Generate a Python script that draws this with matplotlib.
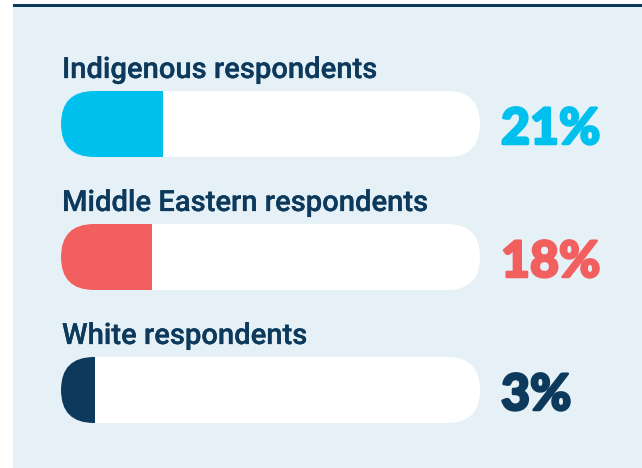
import matplotlib.pyplot as plt
import matplotlib.patheffects as pe
from matplotlib.patches import FancyBboxPatch, Rectangle

# data
labels = ['Indigenous respondents', 'Middle Eastern respondents', 'White respondents']
values = [21, 18, 3]
colors = ['#00c1ee', '#f25f5f', '#0d3a5c']

navy = '#0d3a5c'
bg = '#e6f1f7'

W, H = 642, 468
fig = plt.figure(figsize=(W / 100, H / 100), dpi=100)
fig.patch.set_facecolor('white')

# light panel + dark rule on top
fig.patches.append(Rectangle((13 / W, 0), 1, (H - 7) / H, transform=fig.transFigure,
                             facecolor=bg, edgecolor='none', zorder=0))
fig.patches.append(Rectangle((13 / W, (H - 7) / H), 1, 3 / H, transform=fig.transFigure,
                             facecolor=navy, edgecolor='none', zorder=0))

ax = fig.add_axes([0, 0, 1, 1])
ax.set_zorder(5)
ax.set_axis_off()
ax.patch.set_alpha(0)

# x in percent units, y in row units
px_per_pct = 3.75
x0 = -84 / px_per_pct
ax.set_xlim(x0, x0 + W / px_per_pct)
row_px = 133
ytop = -124 / row_px
ax.set_ylim(ytop + H / row_px, ytop)

aspect = px_per_pct / row_px
bar_h = 66 / row_px
radius = 33 / px_per_pct
track_l = -23 / px_per_pct
track_r = 396 / px_per_pct

for i, (lab, v, c) in enumerate(zip(labels, values, colors)):
    track = FancyBboxPatch((track_l, i - bar_h / 2), track_r - track_l, bar_h,
                           boxstyle=f'round,pad=0,rounding_size={radius}',
                           mutation_aspect=aspect, facecolor='white',
                           edgecolor='none', zorder=2)
    ax.add_patch(track)
    fill = Rectangle((track_l, i - bar_h / 2), v - track_l, bar_h,
                     facecolor=c, edgecolor='none', zorder=3)
    ax.add_patch(fill)
    fill.set_clip_path(track)

    ax.text(track_l + 1 / px_per_pct, i - 46 / row_px, lab, ha='left', va='baseline',
            fontsize=21, fontfamily='Roboto', fontweight='medium', color=navy,
            path_effects=[pe.withStroke(linewidth=0.2, foreground=navy)])
    ax.text(track_r + 21 / px_per_pct, i + 20 / row_px, f'{v}%', ha='left', va='baseline',
            fontsize=36, fontfamily='Lato', fontweight='black', color=c,
            path_effects=[pe.withStroke(linewidth=1.8, foreground=c)])

fig.savefig('out.png', dpi=100)
